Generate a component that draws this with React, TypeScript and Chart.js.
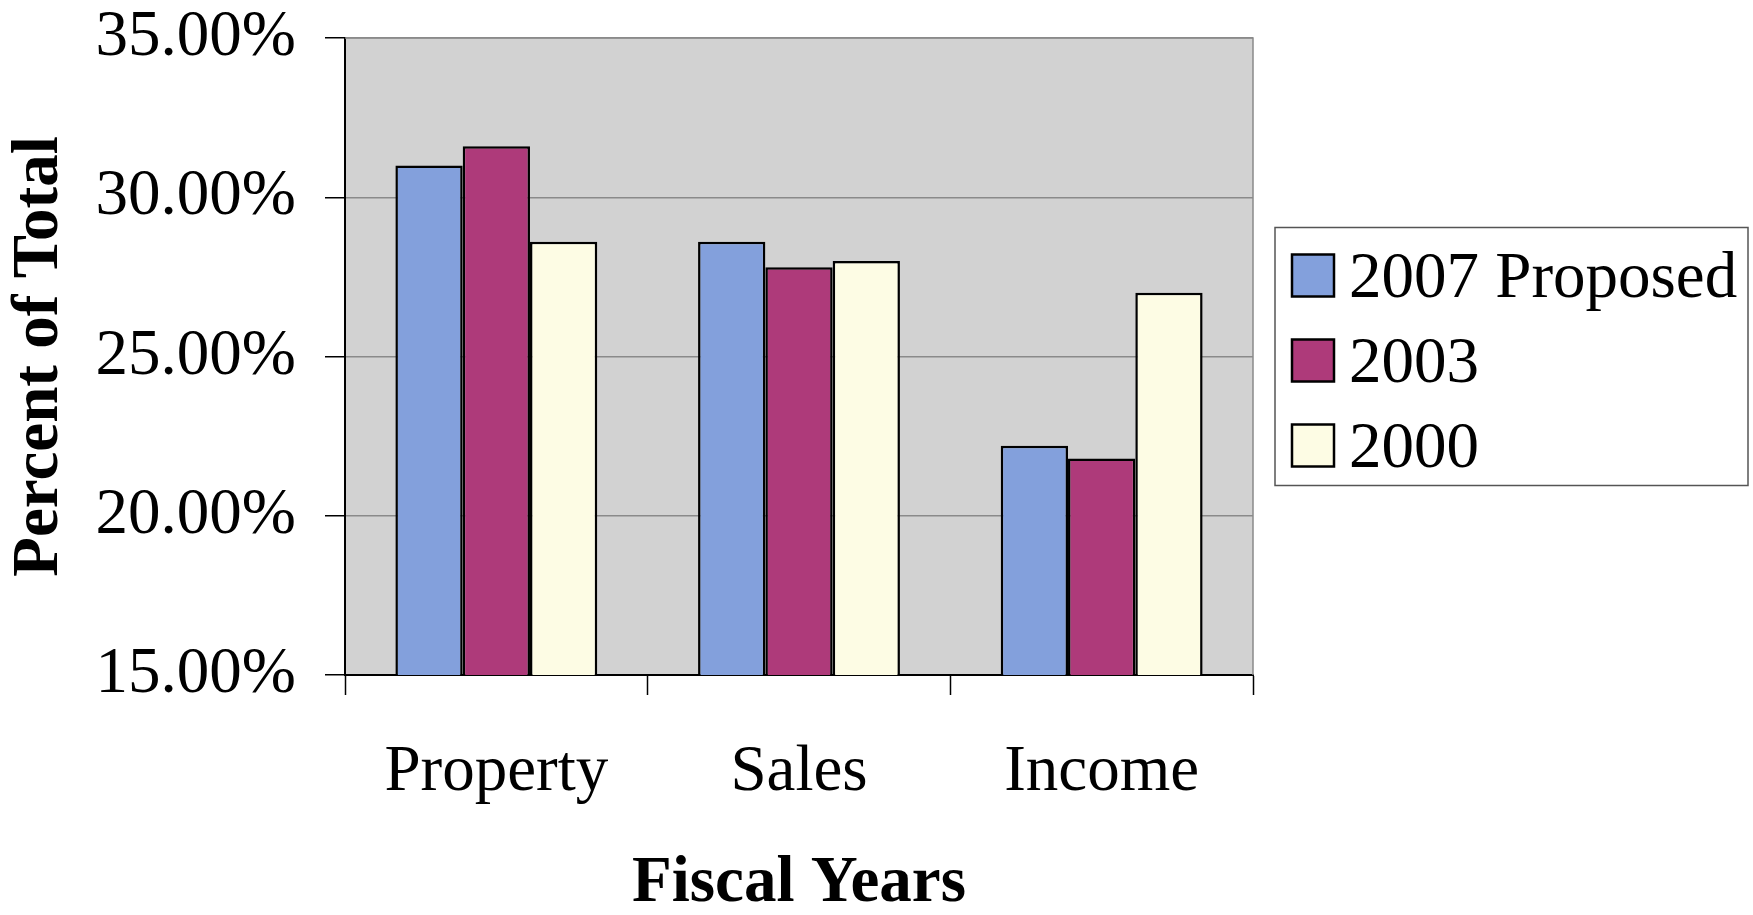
import React, { useEffect, useRef } from "react";
import { Chart, registerables } from "chart.js";

Chart.register(...registerables);

const categories = ["Property", "Sales", "Income"];
const seriesLabels = ["2007 Proposed", "2003", "2000"];
const values2007 = [31.0, 28.6, 22.2];
const values2003 = [31.6, 27.8, 21.8];
const values2000 = [28.6, 28.0, 27.0];
const yTickValues = [15, 20, 25, 30, 35];
const xTitle = "Fiscal Years";
const yTitle = "Percent of Total";

const seriesColors = ["#83a0dc", "#ae3a7a", "#fdfce4"];
const FONT = "'Liberation Serif', 'Times New Roman', serif";

const plotBackground = {
  id: "plotBackground",
  beforeDraw(chart: any) {
    const { ctx, chartArea } = chart;
    ctx.save();
    ctx.fillStyle = "#d2d2d2";
    ctx.fillRect(chartArea.left, chartArea.top, chartArea.right - chartArea.left, chartArea.bottom - chartArea.top);
    ctx.restore();
  },
  beforeDatasetsDraw(chart: any) {
    const { ctx, chartArea } = chart;
    ctx.save();
    ctx.strokeStyle = "#8a8a8a";
    ctx.lineWidth = 1.5;
    ctx.beginPath();
    ctx.moveTo(chartArea.left, chartArea.top);
    ctx.lineTo(chartArea.right, chartArea.top);
    ctx.lineTo(chartArea.right, chartArea.bottom);
    ctx.stroke();
    ctx.restore();
  },
};

const boxLegend = {
  id: "boxLegend",
  afterDraw(chart: any) {
    const { ctx, chartArea } = chart;
    const datasets = chart.data.datasets;
    const left = chartArea.right + 22;
    const width = 473;
    const rowGap = 85;
    const height = 258;
    const top = (chartArea.top + chartArea.bottom) / 2 - height / 2;
    ctx.save();
    ctx.fillStyle = "#ffffff";
    ctx.fillRect(left, top, width, height);
    ctx.strokeStyle = "#555555";
    ctx.lineWidth = 1.5;
    ctx.strokeRect(left, top, width, height);
    ctx.font = `65px ${FONT}`;
    ctx.textBaseline = "alphabetic";
    ctx.textAlign = "left";
    datasets.forEach((ds: any, i: number) => {
      const cy = top + 48 + i * rowGap;
      const sw = 42;
      ctx.fillStyle = ds.backgroundColor;
      ctx.fillRect(left + 17, cy - sw / 2, sw, sw);
      ctx.strokeStyle = "#000000";
      ctx.lineWidth = 2.5;
      ctx.strokeRect(left + 17, cy - sw / 2, sw, sw);
      ctx.fillStyle = "#000000";
      ctx.fillText(ds.label, left + 74, cy + 21);
    });
    ctx.restore();
  },
};

export default function App() {
  const canvasRef = useRef<HTMLCanvasElement | null>(null);

  useEffect(() => {
    if (!canvasRef.current) return;
    const seriesValues = [values2007, values2003, values2000];
    const chart = new Chart(canvasRef.current, {
      type: "bar",
      data: {
        labels: categories,
        datasets: seriesLabels.map((label, i) => ({
          label,
          data: seriesValues[i],
          backgroundColor: seriesColors[i],
          borderColor: "#000000",
          borderWidth: 2.5,
          borderSkipped: false,
          categoryPercentage: 0.667,
          barPercentage: 1.0,
        })),
      },
      options: {
        responsive: false,
        animation: false,
        events: [],
        layout: { padding: { top: 38, right: 500, left: 0, bottom: 0 } },
        plugins: {
          legend: { display: false },
          tooltip: { enabled: false },
          title: { display: false },
        },
        scales: {
          x: {
            type: "category",
            offset: true,
            grid: {
              display: true,
              offset: true,
              drawOnChartArea: false,
              drawTicks: true,
              tickLength: 20,
              tickColor: "#000000",
              tickWidth: 1.5,
            },
            border: { display: true, color: "#000000", width: 2 },
            ticks: {
              color: "#000000",
              padding: 45,
              maxRotation: 0,
              font: { family: FONT, size: 65, lineHeight: 1 },
            },
            title: {
              display: true,
              text: xTitle,
              color: "#000000",
              padding: { top: 0, bottom: 0 },
              font: { family: FONT, size: 65, weight: "bold", lineHeight: 0.94 },
            },
            afterFit(scale: any) {
              scale.height = 240;
              scale.paddingLeft = 0;
              scale.paddingRight = 0;
            },
          },
          y: {
            min: 15,
            max: 35,
            afterBuildTicks(scale: any) {
              scale.ticks = yTickValues.map((v) => ({ value: v }));
            },
            grid: {
              color: "#8a8a8a",
              lineWidth: 1.5,
              drawTicks: true,
              tickLength: 20,
              tickColor: "#000000",
              tickWidth: 1.5,
            },
            border: { display: true, color: "#000000", width: 2 },
            ticks: {
              color: "#000000",
              padding: 29,
              font: { family: FONT, size: 65, lineHeight: 1 },
              callback: (v: any) => Number(v).toFixed(2) + "%",
            },
            title: {
              display: true,
              text: yTitle,
              color: "#000000",
              padding: { top: 8, bottom: 0 },
              font: { family: FONT, size: 65, weight: "bold", lineHeight: 1 },
            },
            afterFit(scale: any) {
              scale.width = 345;
              scale.paddingTop = 0;
              scale.paddingBottom = 0;
            },
          },
        },
      },
      plugins: [plotBackground, boxLegend],
    });
    return () => chart.destroy();
  }, []);

  return (
    <div style={{ position: "fixed", left: 0, top: 0, width: 1753, height: 915, background: "#ffffff" }}>
      <canvas ref={canvasRef} width={1753} height={915} style={{ width: 1753, height: 915 }} />
    </div>
  );
}
